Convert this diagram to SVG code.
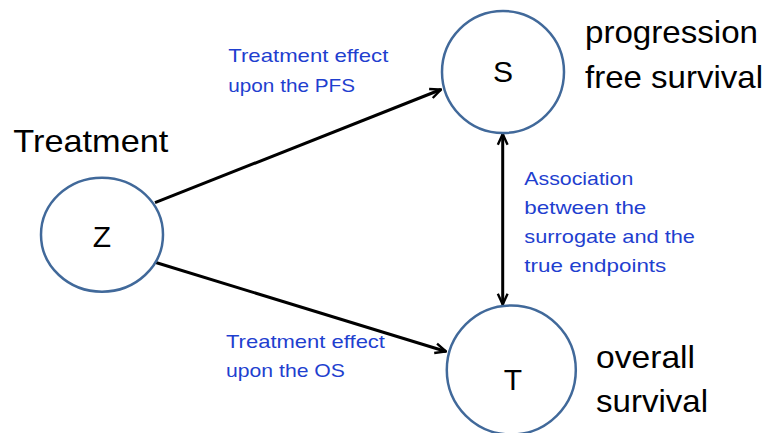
<svg xmlns="http://www.w3.org/2000/svg" width="772" height="433" viewBox="0 0 772 433">
<defs>
<style>
.node{fill:#fff;stroke:#41699A;stroke-width:2.5}
.edge{stroke:#000;stroke-width:3;fill:none}
.big{font-family:"Liberation Sans",Arial,sans-serif;font-size:32px;fill:#000}
.lab{font-family:"Liberation Sans",Arial,sans-serif;font-size:30px;fill:#000;text-anchor:middle}
.note{font-family:"Liberation Sans",Arial,sans-serif;font-size:19px;fill:#1F3FCF}
</style>
<marker id="arr" viewBox="0 0 12 12" refX="11" refY="6" markerWidth="13" markerHeight="13" markerUnits="userSpaceOnUse" orient="auto-start-reverse">
<path d="M1,1.5 L11,6 L1,10.5" fill="none" stroke="#000" stroke-width="2.2"/>
</marker>
</defs>
<rect width="772" height="433" fill="#fff"/>
<g id="connectors">
<line class="edge" x1="155" y1="202.7" x2="441" y2="89.5" marker-end="url(#arr)"/>
<line class="edge" x1="155" y1="262.3" x2="446" y2="351.5" marker-end="url(#arr)"/>
<line class="edge" x1="502.7" y1="134" x2="502.7" y2="304.5" marker-start="url(#arr)" marker-end="url(#arr)"/>
</g>
<g id="node-Z">
<ellipse class="node" cx="102" cy="234.7" rx="61" ry="57"/>
<text class="lab" x="102" y="246.5">Z</text>
</g>
<g id="node-S">
<circle class="node" cx="503" cy="72" r="61"/>
<text class="lab" x="503" y="82">S</text>
</g>
<g id="node-T">
<circle class="node" cx="511.3" cy="370" r="64.5"/>
<text class="lab" x="513" y="390">T</text>
</g>
<g id="labels">
<text class="big" x="13.3" y="151.7" textLength="155" lengthAdjust="spacingAndGlyphs">Treatment</text>
<text class="big" x="585" y="43.3" textLength="173" lengthAdjust="spacingAndGlyphs">progression</text>
<text class="big" x="585" y="88.3" textLength="178" lengthAdjust="spacingAndGlyphs">free survival</text>
<text class="big" x="596" y="368.3" textLength="99" lengthAdjust="spacingAndGlyphs">overall</text>
<text class="big" x="596" y="411.7" textLength="112" lengthAdjust="spacingAndGlyphs">survival</text>
<text class="note" x="228.3" y="61.7" textLength="160" lengthAdjust="spacingAndGlyphs">Treatment effect</text>
<text class="note" x="228.3" y="91.7" textLength="126.7" lengthAdjust="spacingAndGlyphs">upon the PFS</text>
<text class="note" x="226" y="348.3" textLength="159" lengthAdjust="spacingAndGlyphs">Treatment effect</text>
<text class="note" x="226" y="377.3" textLength="119" lengthAdjust="spacingAndGlyphs">upon the OS</text>
<text class="note" x="524.3" y="185" textLength="109" lengthAdjust="spacingAndGlyphs">Association</text>
<text class="note" x="524.3" y="214" textLength="122" lengthAdjust="spacingAndGlyphs">between the</text>
<text class="note" x="524.3" y="243.3" textLength="170.7" lengthAdjust="spacingAndGlyphs">surrogate and the</text>
<text class="note" x="524.3" y="271.7" textLength="142" lengthAdjust="spacingAndGlyphs">true endpoints</text>
</g>
</svg>
